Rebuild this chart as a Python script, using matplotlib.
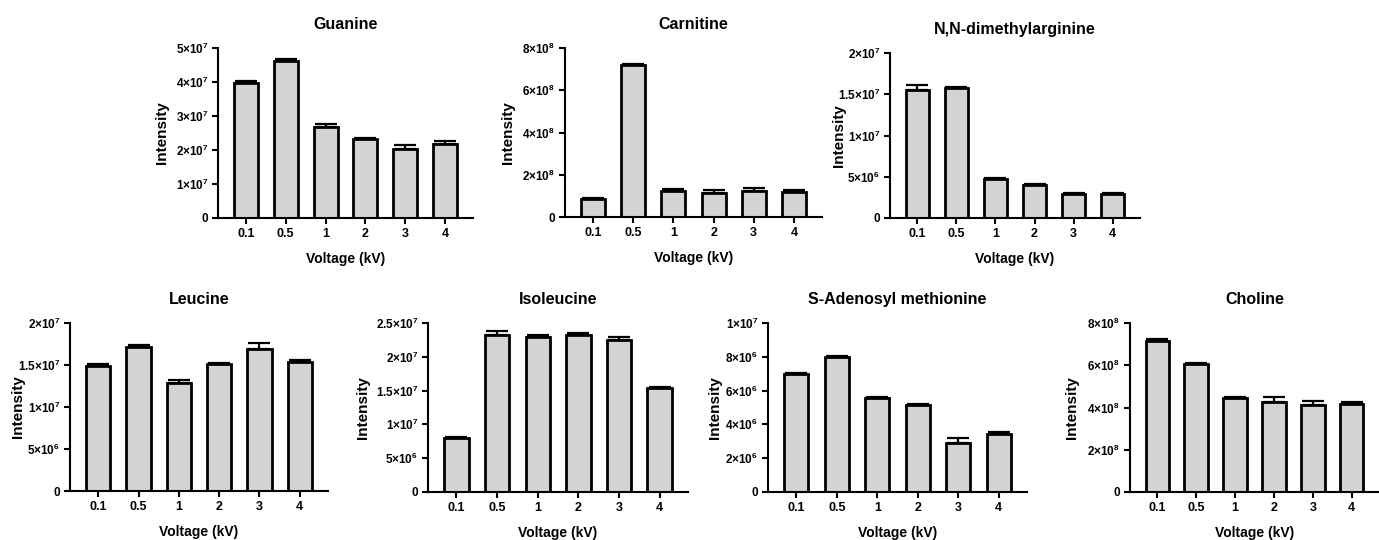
import matplotlib
matplotlib.use("Agg")
import matplotlib.pyplot as plt
import numpy as np

plt.rcParams['font.family'] = ['Liberation Sans', 'DejaVu Sans']
plt.rcParams['font.weight'] = 'bold'
plt.rcParams['mathtext.fontset'] = 'custom'
plt.rcParams['mathtext.rm'] = 'Liberation Sans:bold'
plt.rcParams['mathtext.bf'] = 'Liberation Sans:bold'
plt.rcParams['mathtext.default'] = 'bf'

voltages = ["0.1", "0.5", "1", "2", "3", "4"]

names = ["Guanine", "Carnitine", "N,N-dimethylarginine",
         "Leucine", "Isoleucine", "S-Adenosyl methionine", "Choline"]

guanine = [3.97e7, 4.63e7, 2.68e7, 2.32e7, 2.04e7, 2.19e7]
guanine_err = [0.05e7, 0.05e7, 0.09e7, 0.04e7, 0.10e7, 0.07e7]

carnitine = [0.86e8, 7.20e8, 1.25e8, 1.13e8, 1.22e8, 1.17e8]
carnitine_err = [0.06e8, 0.05e8, 0.06e8, 0.14e8, 0.16e8, 0.10e8]

dma = [15.5e6, 15.7e6, 4.73e6, 3.96e6, 2.95e6, 2.85e6]
dma_err = [0.65e6, 0.15e6, 0.12e6, 0.2e6, 0.12e6, 0.15e6]

leucine = [14.9e6, 17.1e6, 12.8e6, 15.1e6, 16.9e6, 15.3e6]
leucine_err = [0.24e6, 0.28e6, 0.44e6, 0.16e6, 0.72e6, 0.28e6]

isoleucine = [8.0e6, 23.2e6, 23.0e6, 23.2e6, 22.5e6, 15.35e6]
isoleucine_err = [0.15e6, 0.6e6, 0.25e6, 0.25e6, 0.4e6, 0.25e6]

sam = [6.96e6, 8.0e6, 5.56e6, 5.13e6, 2.9e6, 3.45e6]
sam_err = [0.08e6, 0.06e6, 0.06e6, 0.06e6, 0.28e6, 0.08e6]

choline = [7.16e8, 6.07e8, 4.45e8, 4.26e8, 4.12e8, 4.17e8]
choline_err = [0.06e8, 0.05e8, 0.03e8, 0.25e8, 0.20e8, 0.10e8]

values = [guanine, carnitine, dma, leucine, isoleucine, sam, choline]
errors = [guanine_err, carnitine_err, dma_err, leucine_err, isoleucine_err, sam_err, choline_err]

yticks = [
    [0, 1e7, 2e7, 3e7, 4e7, 5e7],
    [0, 2e8, 4e8, 6e8, 8e8],
    [0, 5e6, 1e7, 1.5e7, 2e7],
    [0, 5e6, 1e7, 1.5e7, 2e7],
    [0, 5e6, 1e7, 1.5e7, 2e7, 2.5e7],
    [0, 2e6, 4e6, 6e6, 8e6, 1e7],
    [0, 2e8, 4e8, 6e8, 8e8],
]

# axes boxes in pixels: left, right, top, bottom (from top of image), ylabel offset
boxes = [
    (218, 473, 48, 218, 56),
    (565, 822, 48, 217, 57),
    (890, 1140, 53, 218, 51),
    (70, 328, 323, 491, 52),
    (428, 688, 323, 492, 65),
    (768, 1027, 323, 492, 53),
    (1130, 1379, 323, 492, 58),
]

W, H = 1379, 540


def sci(v):
    if v == 0:
        return "0"
    e = int(np.floor(np.log10(v) + 1e-9))
    m = v / 10 ** e
    return f"{m:g}×10$^{{{e}}}$"


fig = plt.figure(figsize=(W / 100, H / 100), dpi=100)

for name, vals, errs, ticks, (l, r, t, b, off) in zip(names, values, errors, yticks, boxes):
    ax = fig.add_axes([l / W, 1 - b / H, (r - l) / W, (b - t) / H])
    x = np.arange(len(voltages))
    ax.bar(x, vals, width=0.6, color="#d3d3d3", edgecolor="black", linewidth=2, zorder=2)
    ax.errorbar(x, vals, yerr=[np.zeros(len(vals)), errs], fmt="none",
                ecolor="black", elinewidth=1.6, capsize=8, capthick=1.6, zorder=1)
    ax.set_xlim(-0.7, 5.7)
    ax.set_ylim(0, ticks[-1])
    ax.set_yticks(ticks)
    ax.set_yticklabels([sci(v) for v in ticks], fontsize=8.5, fontweight="bold")
    ax.set_xticks(x)
    ax.set_xticklabels(voltages, fontsize=9, fontweight="bold")
    for s in ["top", "right"]:
        ax.spines[s].set_visible(False)
    for s in ["left", "bottom"]:
        ax.spines[s].set_linewidth(1.5)
    ax.tick_params(axis="both", width=1.5, length=4, pad=3)
    ax.set_title(name, fontsize=11.5, fontweight="bold", pad=14)
    ax.set_xlabel("Voltage (kV)", fontsize=10, fontweight="bold", labelpad=9)
    ax.set_ylabel("Intensity", fontsize=11, fontweight="bold")
    ax.yaxis.set_label_coords(-(off - 7) / (r - l), 0.5)

fig.savefig("out.png", dpi=100)
